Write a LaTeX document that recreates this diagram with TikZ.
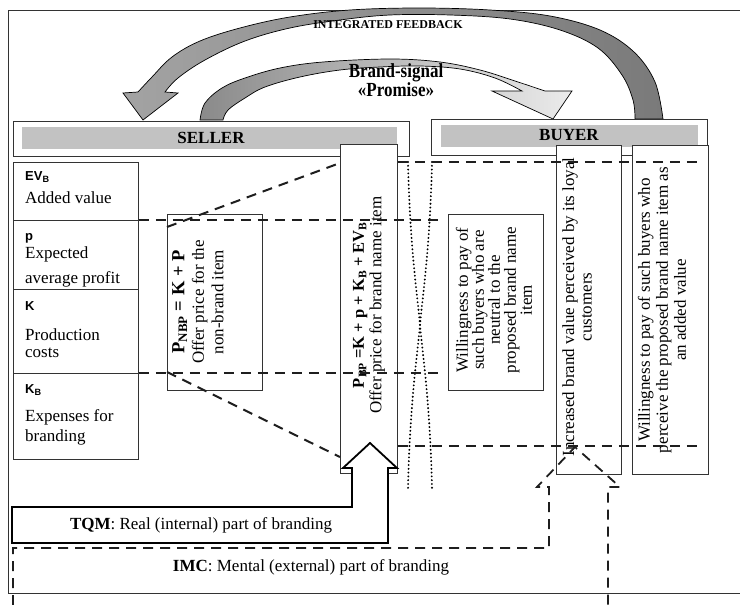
\documentclass[tikz,border=0pt]{standalone}
\usepackage{fontspec}
\setmainfont{Liberation Serif}
\newfontfamily\sansfam{Liberation Sans}
\definecolor{bargray}{HTML}{C2C2C2}
\definecolor{fbleft}{HTML}{A3A3A3}
\definecolor{fbright}{HTML}{7A7A7A}
\definecolor{bsleft}{HTML}{8A8A8A}
\definecolor{bsright}{HTML}{EBEBEB}
\definecolor{lineblack}{HTML}{1E1E1E}
\begin{document}
\begin{tikzpicture}[x=1pt,y=-1pt,
  box/.style={draw=black!80, line width=0.9pt, fill=white, inner sep=0pt, anchor=north west},
  barbox/.style={fill=bargray, inner sep=0pt, anchor=north west},
  dashln/.style={draw=lineblack, line width=2pt, dash pattern=on 10pt off 7pt},
  dotln/.style={draw=black, line width=2.1pt, line cap=round, dash pattern=on 0pt off 3.8pt},
  lbl/.style={font=\sansfam\bfseries\fontsize{13}{15}\selectfont, anchor=west, inner sep=0pt},
  ltxt/.style={font=\fontsize{17}{17}\selectfont, anchor=west, inner sep=0pt},
  rtxt/.style={rotate=90, align=center, inner sep=0pt},
  ]
\useasboundingbox (0,0) rectangle (740,605);

% frame
\draw[line width=1pt, black!80] (740,10) -- (8,10) -- (8,593) -- (740,593);

% integrated feedback arrow
\path[draw=black, line width=0.7pt, left color=fbleft, right color=fbright]
  (663,119) -- plot[smooth, tension=0.6] coordinates {(663,119) (655,82) (634,52) (600,30) (550,16) (490,10) (420,8) (350,10) (290,17) (240,28) (200,41) (172,57) (152,77) (138,92)}
  -- (123,93) -- (143,120) -- (178,93) -- (165,92)
  -- plot[smooth, tension=0.6] coordinates {(165,92) (178,78) (205,60) (245,41) (290,28) (340,20) (390,15) (450,15) (510,19) (560,30) (598,48) (622,75) (633,100) (635,119)}
  -- cycle;

% brand-signal arrow
\path[draw=black, line width=0.7pt, left color=bsleft, right color=bsright]
  (200,120) -- plot[smooth, tension=0.6] coordinates {(200,120) (205,103) (222,88) (245,78) (280,68) (323,62) (390,59) (440,62) (480,70) (515,81) (545,91)}
  -- (572,91) -- (553,119) -- (492,91) -- (522,91)
  -- plot[smooth, tension=0.6] coordinates {(522,91) (495,78) (460,69) (420,66) (380,67) (340,70) (300,77) (265,87) (245,98) (228,110) (223,120)}
  -- cycle;

\node[font=\bfseries\fontsize{12}{12}\selectfont, inner sep=0pt] (fbtxt) at (388,25) {INTEGRATED FEEDBACK};
\node[font=\bfseries\fontsize{20}{18}\selectfont, align=center, inner sep=0pt, xscale=0.85] (bstxt) at (396,80) {Brand-signal\\«Promise»};

% seller / buyer headers
\node[box, line width=1.1pt, minimum width=396, minimum height=35] (sellerbox) at (13,121) {};
\node[barbox, minimum width=375, minimum height=22] (sellerbar) at (22,127) {};
\node[font=\bfseries\fontsize{17}{17}\selectfont, inner sep=0pt] (sellertxt) at (211,138) {SELLER};
\node[box, line width=1.1pt, minimum width=276, minimum height=36] (buyerbox) at (431,119) {};
\node[barbox, minimum width=257, minimum height=22] (buyerbar) at (441,125) {};
\node[font=\bfseries\fontsize{17}{17}\selectfont, inner sep=0pt] (buyertxt) at (569,135) {BUYER};

% left column
\node[box, minimum width=125, minimum height=58] (evbox) at (13,162) {};
\node[box, minimum width=125, minimum height=69] (pbox) at (13,220) {};
\node[box, minimum width=125, minimum height=84] (kbox) at (13,289) {};
\node[box, minimum width=125, minimum height=86] (kbbox) at (13,373) {};
\node[lbl] (evl) at (25,177) {EV\textsubscript{B}};
\node[ltxt] (evt) at (25,198) {Added value};
\node[lbl] (pl) at (25,238) {p};
\node[ltxt] (pt1) at (25,254) {Expected};
\node[ltxt] (pt2) at (25,279) {average profit};
\node[lbl] (kl) at (25,306) {K};
\node[ltxt] (kt1) at (25,335) {Production};
\node[ltxt] (kt2) at (25,353) {costs};
\node[lbl] (kbl) at (25,390) {K\textsubscript{B}};
\node[ltxt] (kbt1) at (25,417) {Expenses for};
\node[ltxt] (kbt2) at (25,437) {branding};

% price boxes
\node[box, minimum width=95, minimum height=176] (nbpbox) at (167,214) {};
\node[rtxt, font=\fontsize{17}{19.5}\selectfont] (nbptxt) at (198,302) {{\fontsize{18.5}{19.5}\selectfont\textbf{P\textsubscript{NBP} = K + P}}\\Offer price for the\\non-brand item};
\node[box, minimum width=57, minimum height=329] (bpbox) at (340,144) {};
\node[rtxt, font=\fontsize{17}{17.5}\selectfont] (bptxt) at (369,305) {{\fontsize{16.5}{17.5}\selectfont\textbf{P\textsubscript{BP} =K + p + K\textsubscript{B} + EV\textsubscript{B}}}\\Offer price for brand name item};

% buyer boxes
\node[box, minimum width=95, minimum height=176] (neutbox) at (448,214) {};
\node[rtxt, font=\fontsize{17}{16}\selectfont] (neuttxt) at (494,300) {Willingness to pay of\\such buyers who are\\neutral to the\\proposed brand name\\item};
\node[box, minimum width=65, minimum height=329] (incbox) at (556,145) {};
\node[rtxt, font=\fontsize{17}{17.5}\selectfont] (inctxt) at (577,307) {Increased brand value perceived by its loyal\\customers};
\node[box, minimum width=76, minimum height=329] (addbox) at (632,145) {};
\node[rtxt, font=\fontsize{17}{18}\selectfont] (addtxt) at (662,310) {Willingness to pay of such buyers who\\perceive the proposed brand name item as\\an added value};

% dotted curves
\draw[dotln] (408,162) .. controls (410,250) and (418,300) .. (420,325) .. controls (418,350) and (410,400) .. (408,488);
\draw[dotln] (432,162) .. controls (430,250) and (422,300) .. (420,325) .. controls (422,350) and (430,400) .. (432,488);

% dashed level lines
\coordinate (l1e) at (702,162);
\coordinate (l2e) at (442,220);
\coordinate (l3e) at (442,373);
\coordinate (l4e) at (702,446);
\draw[dashln] (bpbox.east |- l1e) -- (l1e);
\draw[dashln] (pbox.north east) -- (l2e);
\draw[dashln] (kbbox.north east) -- (l3e);
\draw[dashln] (bpbox.east |- l4e) -- (l4e);
\draw[dashln] (nbpbox.west |- 0,227) -- (bpbox.west |- 0,163);
\draw[dashln] (nbpbox.west |- 0,372) -- (bpbox.west |- 0,457);

% TQM block arrow
\draw[line width=1.8pt, fill=white, line join=miter] (12,507) -- (352,507) -- (352,468) -- (343,468) -- (370,443) -- (397,468) -- (388,468) -- (388,543) -- (12,543) -- cycle;
\node[font=\fontsize{17}{17}\selectfont, inner sep=0pt] (tqmtxt) at (201,525) {\textbf{TQM}: Real (internal) part of branding};

% IMC dashed block arrow
\draw[dashln, line width=1.8pt] (13,605) -- (13,548) -- (549,548) -- (549,487) -- (537,487) -- (575,447) -- (620,487) -- (608,487) -- (608,605);
\node[font=\fontsize{17}{17}\selectfont, inner sep=0pt] (imctxt) at (311,567) {\textbf{IMC}: Mental (external) part of branding};

\end{tikzpicture}
\end{document}
